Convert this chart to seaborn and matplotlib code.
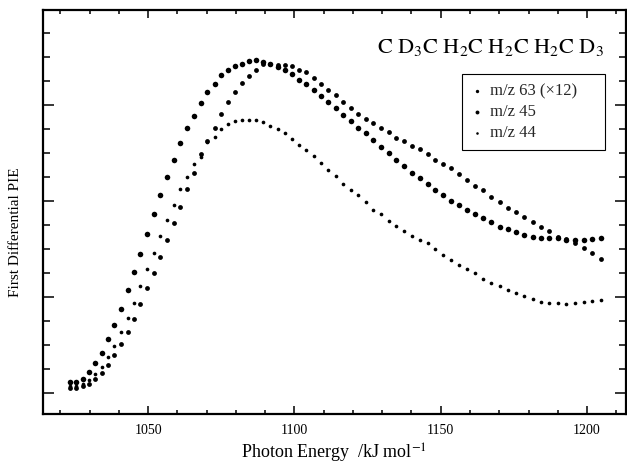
import matplotlib
matplotlib.use("Agg")
import matplotlib.pyplot as plt
from matplotlib.ticker import MultipleLocator
import seaborn as sns
import pandas as pd

# Photon energy grid (kJ/mol)
energy = [1023.3, 1025.5, 1027.6, 1029.8, 1032.0, 1034.1, 1036.3, 1038.5, 1040.7, 1043.0,
          1045.2, 1047.4, 1049.7, 1051.9, 1054.2, 1056.5, 1058.7, 1061.0, 1063.3, 1065.7,
          1068.0, 1070.3, 1072.7, 1075.0, 1077.4, 1079.8, 1082.2, 1084.6, 1087.0, 1089.4,
          1091.8, 1094.3, 1096.7, 1099.2, 1101.6, 1104.1, 1106.6, 1109.1, 1111.6, 1114.2,
          1116.7, 1119.3, 1121.8, 1124.4, 1127.0, 1129.6, 1132.2, 1134.8, 1137.5, 1140.1,
          1142.8, 1145.5, 1148.2, 1150.9, 1153.6, 1156.3, 1159.0, 1161.8, 1164.5, 1167.3,
          1170.1, 1172.9, 1175.7, 1178.6, 1181.4, 1184.3, 1187.1, 1190.0, 1192.9, 1195.8,
          1198.8, 1201.7, 1204.7]

# m/z 45 (earliest rising, large dots)
mz45 = [0.11, 0.11, 0.15, 0.22, 0.31, 0.42, 0.56, 0.71, 0.88, 1.07,
        1.26, 1.45, 1.66, 1.86, 2.06, 2.25, 2.43, 2.60, 2.76, 2.89,
        3.02, 3.14, 3.22, 3.31, 3.37, 3.41, 3.43, 3.46, 3.47, 3.45,
        3.43, 3.40, 3.36, 3.32, 3.26, 3.22, 3.16, 3.09, 3.03, 2.97,
        2.90, 2.83, 2.76, 2.71, 2.64, 2.56, 2.50, 2.43, 2.36, 2.29,
        2.24, 2.18, 2.11, 2.06, 2.00, 1.96, 1.91, 1.86, 1.82, 1.78,
        1.73, 1.71, 1.68, 1.65, 1.63, 1.61, 1.61, 1.61, 1.59, 1.59,
        1.59, 1.60, 1.61]

# m/z 63 (x12)
mz63 = [0.05, 0.05, 0.07, 0.09, 0.15, 0.21, 0.29, 0.40, 0.51, 0.64,
        0.77, 0.93, 1.09, 1.25, 1.42, 1.59, 1.77, 1.94, 2.12, 2.29,
        2.49, 2.63, 2.76, 2.91, 3.03, 3.14, 3.23, 3.30, 3.37, 3.43,
        3.43, 3.42, 3.42, 3.41, 3.37, 3.34, 3.28, 3.22, 3.16, 3.10,
        3.03, 2.97, 2.91, 2.85, 2.81, 2.76, 2.72, 2.66, 2.63, 2.57,
        2.54, 2.49, 2.43, 2.39, 2.34, 2.28, 2.22, 2.16, 2.11, 2.04,
        1.99, 1.93, 1.89, 1.83, 1.78, 1.73, 1.69, 1.63, 1.60, 1.56,
        1.51, 1.46, 1.40]

# m/z 44
mz44 = [0.07, 0.07, 0.09, 0.14, 0.20, 0.27, 0.38, 0.49, 0.64, 0.78,
        0.94, 1.11, 1.29, 1.46, 1.64, 1.80, 1.96, 2.12, 2.25, 2.39,
        2.46, 2.61, 2.67, 2.75, 2.80, 2.83, 2.84, 2.84, 2.84, 2.82,
        2.78, 2.75, 2.71, 2.65, 2.58, 2.53, 2.47, 2.40, 2.32, 2.26,
        2.18, 2.11, 2.06, 1.99, 1.91, 1.86, 1.79, 1.74, 1.69, 1.64,
        1.59, 1.56, 1.50, 1.44, 1.39, 1.33, 1.29, 1.25, 1.19, 1.15,
        1.11, 1.07, 1.04, 1.01, 0.98, 0.95, 0.94, 0.94, 0.93, 0.94,
        0.95, 0.96, 0.97]

labels = ["m/z 63 (\u00d712)", "m/z 45", "m/z 44"]
x_ticks = [1050, 1100, 1150, 1200]

sns.set_theme(style="ticks")
plt.rcParams["font.family"] = ["Liberation Serif", "DejaVu Serif"]
plt.rcParams["mathtext.fontset"] = "stix"

fig = plt.figure(figsize=(6.27, 4.67), dpi=100)
ax = fig.add_axes([43 / 627, 53 / 467, 583 / 627, 404 / 467])

df45 = pd.DataFrame({"E": energy, "v": mz45})
df63 = pd.DataFrame({"E": energy, "v": mz63})
df44 = pd.DataFrame({"E": energy, "v": mz44})

sns.scatterplot(data=df63, x="E", y="v", ax=ax, color="black", s=12, linewidth=0, legend=False)
h63 = ax.collections[-1]
sns.scatterplot(data=df45, x="E", y="v", ax=ax, color="black", s=16, linewidth=0, legend=False)
h45 = ax.collections[-1]
sns.scatterplot(data=df44, x="E", y="v", ax=ax, color="black", s=7, linewidth=0, legend=False)
h44 = ax.collections[-1]

ax.set_xlim(1014.1, 1213.3)
ax.set_ylim(-0.219, 3.99)
ax.set_xticks(x_ticks)
ax.xaxis.set_minor_locator(MultipleLocator(10))
ax.yaxis.set_major_locator(MultipleLocator(1))
ax.yaxis.set_minor_locator(MultipleLocator(0.25))
ax.tick_params(which="both", direction="in", top=True, right=True, labelleft=False,
               color="black", width=1.1)
ax.tick_params(axis="x", which="major", length=6, pad=7, labelsize=10, labelcolor="black")
ax.tick_params(axis="x", which="minor", length=3)
ax.tick_params(axis="y", which="major", length=8)
ax.tick_params(axis="y", which="minor", length=5)
for sp in ax.spines.values():
    sp.set_visible(True)
    sp.set_linewidth(1.6)
    sp.set_color("black")

ax.set_xlabel("Photon Energy  /kJ mol$^{-1}$", fontsize=13, labelpad=4, color="black")
ax.set_ylabel("First Differential PIE", fontsize=11, color="black")
ax.yaxis.set_label_coords(-0.036, 0.45)

ax.text(0.962, 0.908,
        r"$\mathrm{C\ D_{3}C\ H_{2}C\ H_{2}C\ H_{2}C\ D_{3}}$",
        transform=ax.transAxes, ha="right", va="center", fontsize=16, color="black")

leg = ax.legend([h63, h45, h44], labels, loc="upper left",
                bbox_to_anchor=(0.719, 0.8416, 0.245, 0), mode="expand", borderaxespad=0,
                fontsize=12, frameon=True, fancybox=False, framealpha=1,
                edgecolor="black", borderpad=0.55, labelspacing=0.3,
                handlelength=0.7, handletextpad=0.4, markerscale=0.7)
leg.get_frame().set_linewidth(0.8)

fig.savefig("out.png", dpi=100)
